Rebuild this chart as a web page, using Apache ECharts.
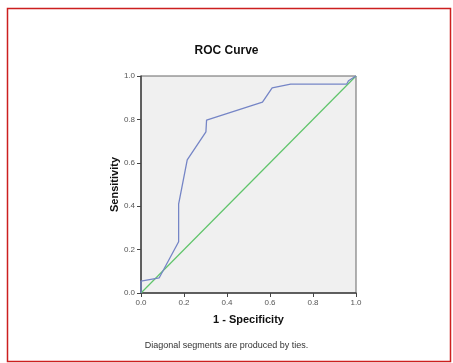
<!DOCTYPE html>
<html>
<head>
<meta charset="utf-8">
<script src="https://cdn.jsdelivr.net/npm/echarts@6/dist/echarts.min.js"></script>
<style>
    html, body { margin: 0; padding: 0; background: #ffffff; }
    #chart { width: 453px; height: 363px; }
</style>
</head>
<body>
<div id="chart"></div>
<script>
    // ROC curve points (1 - specificity, sensitivity)
    var rocX = [0, 0, 0.085, 0.175, 0.175, 0.215, 0.302, 0.305, 0.565, 0.61, 0.696, 0.957, 0.965, 1];
    var rocY = [0, 0.055, 0.07, 0.236, 0.41, 0.613, 0.743, 0.797, 0.88, 0.945, 0.963, 0.963, 0.978, 1];
    var refX = [0, 1];
    var refY = [0, 1];
    var tickLabels = ["0.0", "0.2", "0.4", "0.6", "0.8", "1.0"];

    var chart = echarts.init(document.getElementById("chart"));

    function pairs(xs, ys) {
        return xs.map(function (x, i) { return [x, ys[i]]; });
    }

    function fmt(v) {
        return tickLabels[Math.round(v * 5)];
    }

    var axisCommon = {
        type: "value",
        min: 0,
        max: 1,
        interval: 0.2,
        nameLocation: "middle",
        nameTextStyle: {
            fontFamily: "Liberation Sans",
            fontWeight: "bold",
            fontSize: 11,
            color: "#111"
        },
        axisLine: {
            show: true,
            lineStyle: { color: "#444", width: 1.5 }
        },
        axisTick: {
            show: true,
            length: 4,
            lineStyle: { color: "#444", width: 1 }
        },
        axisLabel: {
            fontFamily: "Liberation Sans",
            fontSize: 8,
            color: "#555",
            margin: 6,
            formatter: fmt
        },
        splitLine: { show: false }
    };

    var option = {
        backgroundColor: "#ffffff",
        animation: false,
        title: {
            text: "ROC Curve",
            left: "center",
            top: 40,
            textStyle: {
                fontFamily: "Liberation Sans",
                fontWeight: "bold",
                fontSize: 12,
                color: "#111"
            }
        },
        grid: {
            left: 141,
            top: 76,
            width: 215,
            height: 217,
            show: true,
            backgroundColor: "#f0f0f0",
            borderColor: "#666",
            borderWidth: 1
        },
        xAxis: Object.assign({}, axisCommon, {
            name: "1 - Specificity",
            nameGap: 21
        }),
        yAxis: Object.assign({}, axisCommon, {
            name: "Sensitivity",
            nameGap: 18
        }),
        graphic: [
            {
                type: "rect",
                shape: { x: 7.5, y: 8.5, width: 443, height: 353 },
                style: { fill: "none", stroke: "#cc1f1f", lineWidth: 1.5 },
                silent: true
            },
            {
                type: "text",
                left: "center",
                top: 341,
                style: {
                    text: "Diagonal segments are produced by ties.",
                    fontFamily: "Liberation Sans",
                    fontSize: 9,
                    fill: "#333"
                }
            }
        ],
        series: [
            {
                name: "Reference",
                type: "line",
                data: pairs(refX, refY),
                symbol: "none",
                lineStyle: { color: "#5fc46a", width: 1.2 },
                z: 2
            },
            {
                name: "ROC",
                type: "line",
                data: pairs(rocX, rocY),
                symbol: "none",
                lineStyle: { color: "#7585c6", width: 1.3 },
                z: 3
            }
        ]
    };

    chart.setOption(option);
</script>
</body>
</html>
